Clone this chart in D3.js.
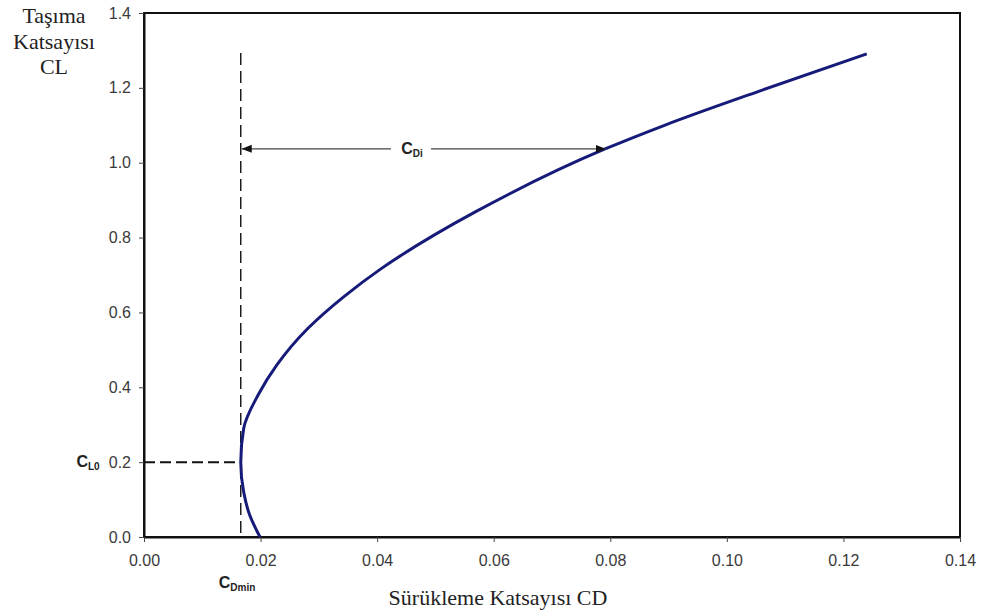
<!DOCTYPE html>
<html><head><meta charset="utf-8">
<script src="https://cdn.jsdelivr.net/npm/d3@7"></script>
<style>body{margin:0;background:#fff}</style>
</head><body>
<svg id="c" width="983" height="616"></svg>
<script>
// Drag polar data
const liftCoef = [0.00, 0.06, 0.12, 0.20, 0.29, 0.38, 0.46, 0.557, 0.641, 0.717, 0.87, 1.036, 1.10, 1.192, 1.291];
const dragCoef = [0.0199, 0.0181, 0.0171, 0.0166, 0.0171, 0.0196, 0.0228, 0.0281, 0.0342, 0.0407, 0.0570, 0.0790, 0.0893, 0.1057, 0.1240];
const xTicks = [0, 0.02, 0.04, 0.06, 0.08, 0.10, 0.12, 0.14];
const yTicks = [0, 0.2, 0.4, 0.6, 0.8, 1.0, 1.2, 1.4];
const cdMin = 0.0166, cl0 = 0.2;
const cdiLevel = 1.037, cdiEnd = 0.0792;

const svg = d3.select("#c");
const x = d3.scaleLinear().domain([0, 0.14]).range([144, 960]);
const y = d3.scaleLinear().domain([0, 1.4]).range([537, 13]);

// frame
svg.append("rect").attr("x", 144).attr("y", 13).attr("width", 816).attr("height", 524)
  .attr("fill", "none").attr("stroke", "#111").attr("stroke-width", 2);

const xa = svg.append("g").attr("transform", "translate(0,537)")
  .call(d3.axisBottom(x).tickValues(xTicks).tickFormat(d3.format(".2f")).tickSize(5).tickSizeOuter(0));
const ya = svg.append("g").attr("transform", "translate(144,0)")
  .call(d3.axisLeft(y).tickValues(yTicks).tickFormat(d3.format(".1f")).tickSize(5).tickSizeOuter(0));
[xa, ya].forEach(a => {
  a.attr("font-size", 16);
  a.select(".domain").attr("stroke", "#111").attr("stroke-width", 2);
  a.selectAll(".tick line").attr("stroke", "#444");
  a.selectAll("text").attr("font-family", "Liberation Sans, Arial, sans-serif").attr("font-size", 16).attr("fill", "#3a3a3a");
});
xa.selectAll("text").attr("y", 18);
ya.selectAll("text").attr("x", -13);

// dashed guides
svg.append("line").attr("x1", x(cdMin)).attr("x2", x(cdMin)).attr("y1", 53).attr("y2", y(0))
  .attr("stroke", "#111").attr("stroke-width", 1.4).attr("stroke-dasharray", "12,6");
svg.append("line").attr("x1", x(0)).attr("x2", x(cdMin)).attr("y1", y(cl0)).attr("y2", y(cl0))
  .attr("stroke", "#111").attr("stroke-width", 2).attr("stroke-dasharray", "11,5");

// curve
const pts = liftCoef.map((c, i) => [dragCoef[i], c]);
svg.append("path").datum(pts)
  .attr("d", d3.line().x(d => x(d[0])).y(d => y(d[1])).curve(d3.curveMonotoneY))
  .attr("fill", "none").attr("stroke", "#161a78").attr("stroke-width", 3);

// CDi arrow
const defs = svg.append("defs");
defs.append("marker").attr("id", "ah").attr("viewBox", "0 0 10 10").attr("refX", 10).attr("refY", 5)
  .attr("markerWidth", 10).attr("markerHeight", 10).attr("markerUnits", "userSpaceOnUse").attr("orient", "auto-start-reverse")
  .append("path").attr("d", "M0,1 L10,5 L0,9 Z").attr("fill", "#111");
const ay = y(cdiLevel);
svg.append("line").attr("x1", x(cdMin) + 1).attr("x2", x(cdiEnd)).attr("y1", ay).attr("y2", ay)
  .attr("stroke", "#444").attr("stroke-width", 1.3)
  .attr("marker-start", "url(#ah)").attr("marker-end", "url(#ah)");
svg.append("rect").attr("x", 391).attr("y", ay - 9).attr("width", 40).attr("height", 18).attr("fill", "#fff");

function sublabel(tx, ty, main, sub, anchor) {
  const t = svg.append("text").attr("x", tx).attr("y", ty).attr("text-anchor", anchor)
    .attr("font-family", "Liberation Sans, Arial, sans-serif").attr("font-weight", "bold").attr("fill", "#222");
  t.append("tspan").attr("font-size", 16).text(main);
  t.append("tspan").attr("font-size", 10).attr("dy", 3).text(sub);
}
sublabel(412, ay + 5, "C", "Di", "middle");
sublabel(88, y(cl0) + 5, "C", "L0", "middle");
sublabel(237, 588, "C", "Dmin", "middle");

// axis titles
const serif = "Liberation Serif, Times New Roman, serif";
const yt = svg.append("text").attr("font-family", serif).attr("font-size", 22).attr("fill", "#222").attr("text-anchor", "middle");
[["Taşıma", 23], ["Katsayısı", 49], ["CL", 74]].forEach(([s, yy]) => yt.append("tspan").attr("x", 54).attr("y", yy).text(s));
svg.append("text").attr("x", 498).attr("y", 605).attr("text-anchor", "middle").attr("font-family", serif)
  .attr("font-size", 22).attr("fill", "#222").text("Sürükleme Katsayısı CD");
</script>
</body></html>
